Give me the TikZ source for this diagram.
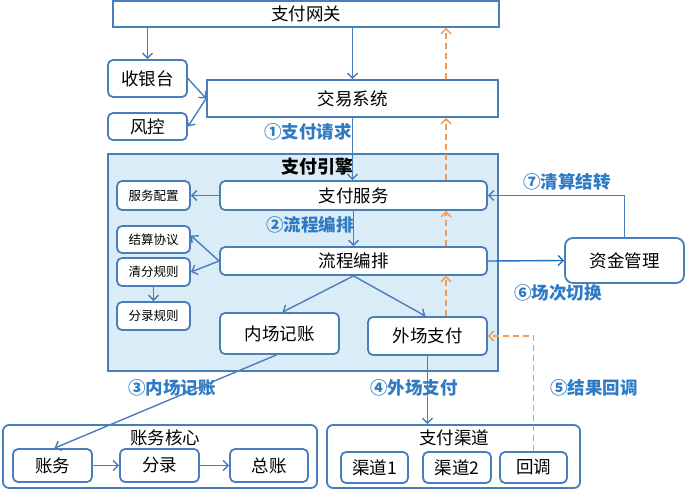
\documentclass[tikz,border=0pt]{standalone}
\usepackage{fontspec}
\setmainfont{Noto Sans CJK SC}
\usetikzlibrary{arrows.meta,calc}
\definecolor{bl}{HTML}{4A7EBB}
\definecolor{dbl}{HTML}{2470C2}
\definecolor{lb}{HTML}{2E7BC4}
\definecolor{or}{HTML}{F59A4E}
\definecolor{pane}{HTML}{DAEDF6}
\begin{document}
\begin{tikzpicture}[x=1pt,y=-1pt,
  box/.style={draw=bl, line width=1.8pt, fill=white, rounded corners=5pt, inner sep=0pt, font=\fontsize{17.5}{17.5}\selectfont},
  sq/.style={box, rounded corners=0pt},
  small/.style={box, font=\fontsize{12.5}{12.5}\selectfont},
  grp/.style={draw=bl, line width=1.8pt, inner sep=0pt},
  lbl/.style={text=lb, font=\bfseries\fontsize{17.5}{17.5}\selectfont, inner sep=0pt},
  ttl/.style={font=\fontsize{17.5}{17.5}\selectfont, inner sep=0pt},
  arr/.style={draw=bl, line width=1.4pt, -{Straight Barb[length=5pt,width=10pt,line width=1.4pt]}},
  odash/.style={draw=or, line width=1.4pt, dash pattern=on 6pt off 4pt, -{Straight Barb[length=5pt,width=10pt,line width=1.4pt]}}]
\useasboundingbox (0,0) rectangle (687,490);
% containers
\node[grp, fill=pane, minimum width=390pt, minimum height=217pt] (eng) at (303,262.5) {};
\node[font=\bfseries\fontsize{18}{18}\selectfont, inner sep=0pt] (engt) at (317,167) {支付引擎};
\node[grp, rounded corners=6pt, minimum width=314pt, minimum height=63pt] (acc) at (160,456.5) {};
\node[ttl] (acct) at (165,438) {账务核心};
\node[grp, rounded corners=6pt, minimum width=253pt, minimum height=63pt] (chn) at (453.5,456.5) {};
\node[ttl] (chnt) at (454,438) {支付渠道};
% top nodes
\node[sq, minimum width=386pt, minimum height=26pt] (gw) at (306,14) {支付网关};
\node[sq, minimum width=291pt, minimum height=37pt] (jy) at (352.5,98.5) {交易系统};
\node[box, minimum width=79pt, minimum height=37pt] (sy) at (147.5,78.5) {收银台};
\node[box, minimum width=79pt, minimum height=27pt] (fk) at (147.5,126.5) {风控};
% engine nodes
\node[box, minimum width=267pt, minimum height=29pt] (zf) at (353.5,195.5) {支付服务};
\node[small, minimum width=73pt, minimum height=29pt] (fw) at (153.5,195.5) {服务配置};
\node[box, minimum width=267pt, minimum height=28pt] (lc) at (353.5,261) {流程编排};
\node[small, minimum width=73pt, minimum height=27pt] (js) at (153.5,239.5) {结算协议};
\node[small, minimum width=73pt, minimum height=28pt] (qf) at (153.5,272) {清分规则};
\node[small, minimum width=73pt, minimum height=28pt] (fl) at (153.5,316) {分录规则};
\node[box, minimum width=119pt, minimum height=41pt] (nc) at (279.5,333.5) {内场记账};
\node[box, minimum width=119pt, minimum height=38pt] (wc) at (427.5,336) {外场支付};
\node[box, rounded corners=8pt, minimum width=119pt, minimum height=45pt] (zj) at (624.5,260.5) {资金管理};
% bottom nodes
\node[box, minimum width=79pt, minimum height=33pt] (zw) at (52.5,465.5) {账务};
\node[box, minimum width=79pt, minimum height=33pt] (fe) at (159.5,465.5) {分录};
\node[box, minimum width=78pt, minimum height=33pt] (zz) at (269,465.5) {总账};
\node[box, minimum width=67pt, minimum height=31pt] (q1) at (374.5,467.5) {渠道1};
\node[box, minimum width=68pt, minimum height=31pt] (q2) at (457,467.5) {渠道2};
\node[box, minimum width=67pt, minimum height=31pt] (hd) at (533.5,467.5) {回调};
% labels
\node[lbl] (l1) at (308,132) {①支付请求};
\node[lbl] (l2) at (310,225) {②流程编排};
\node[lbl] (l3) at (172,388) {③内场记账};
\node[lbl] (l4) at (414,388) {④外场支付};
\node[lbl] (l5) at (594,388) {⑤结果回调};
\node[lbl] (l6) at (558,293) {⑥场次切换};
\node[lbl] (l7) at (567,182) {⑦清算结转};
% blue connectors
\draw[arr] (gw.south -| sy.north) -- (sy.north);
\draw[arr] (gw.south -| jy.north) -- (jy.north);
\draw[arr] (sy.east) -- (jy.west);
\draw[arr] (jy.west) -- (fk.east);
\draw[arr] (jy.south) -- (jy.south |- zf.north);
\draw[arr] (zf.west) -- (fw.east);
\draw[arr] (zf.south) -- (lc.north);
\draw[arr] (lc.west) -- ([yshift=4pt]js.east);
\draw[arr] (lc.west) -- (qf.east);
\draw[arr] (qf.south) -- (fl.north);
\draw[arr] (lc.south) -- ([xshift=3pt]nc.north);
\draw[arr] (lc.south) -- ([xshift=-2pt]wc.north);
\draw[arr, draw=dbl] (lc.east) -- (zj.west);
\draw[arr] (zj.north) |- (zf.east);
\draw[arr] ([xshift=-3pt]nc.south) -- ([xshift=2pt]zw.north);
\draw[arr] (zw.east) -- (fe.west);
\draw[arr] (fe.east) -- (zz.west);
\draw[arr] (wc.south) -- (wc.south |- chn.north);
% orange dashed returns
\coordinate (ox) at (446,0);
\draw[odash] (wc.north -| ox) -- (lc.south -| ox);
\draw[odash] (lc.north -| ox) -- (zf.south -| ox);
\draw[odash] (zf.north -| ox) -- (jy.south -| ox);
\draw[odash] (jy.north -| ox) -- (gw.south -| ox);
\draw[odash] (hd.north) |- (wc.east);
\end{tikzpicture}
\end{document}
